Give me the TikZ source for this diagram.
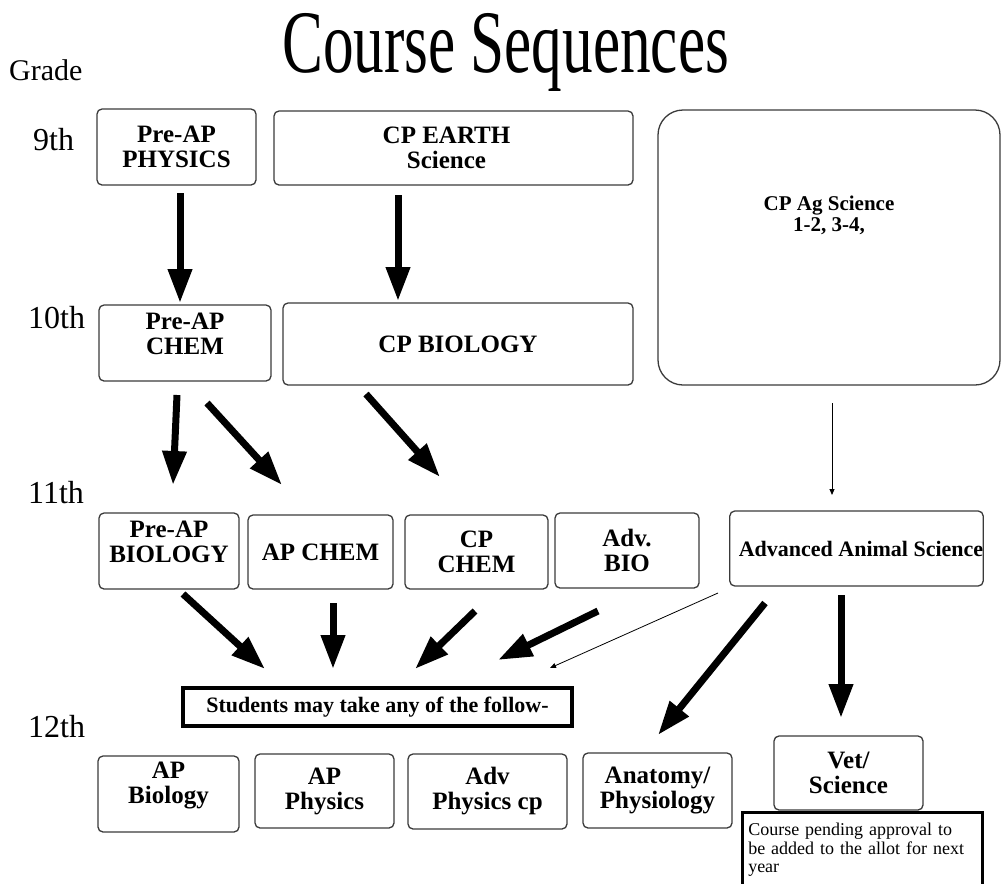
\documentclass[tikz,border=0pt]{standalone}
\usepackage{fontspec}
\setmainfont{Liberation Serif}
\usetikzlibrary{arrows.meta}
\definecolor{boxline}{HTML}{3A3A3A}
\newcommand\boxfont{\fontsize{25}{25}\selectfont\bfseries}
\newcommand\gradefont{\fontsize{32}{32}\selectfont}
\tikzset{
  box/.style={draw=boxline, line width=1.3pt, rounded corners=5pt, align=center, font=\boxfont, inner sep=0pt},
  raised/.style={label={[font=\boxfont, align=center, inner sep=0pt, yshift=9pt]center:#1}},
  gradelbl/.style={anchor=base west, inner sep=0pt, font=\gradefont},
  bigarrow/.style={line width=7pt, -{Triangle[width=23pt,length=34pt]}},
  thinarrow/.style={line width=1pt, -{Triangle[width=5pt,length=6pt]}},
}
\begin{document}
\begin{tikzpicture}[x=1pt,y=-1pt]
\useasboundingbox (0,0) rectangle (1002,884);
% title and grades
\node[anchor=base west, inner sep=0pt] (title) at (282,72) {\scalebox{0.665}[0.97]{\fontsize{92}{92}\selectfont Course Sequences}};
\node[gradelbl, font=\fontsize{30}{30}\selectfont] (grade) at (9,80) {Grade};
\node[gradelbl] (g9) at (33,150) {9th};
\node[gradelbl] (g10) at (28,328) {10th};
\node[gradelbl] (g11) at (28,503) {11th};
\node[gradelbl] (g12) at (28,737) {12th};
% 9th
\node[box, minimum width=159, minimum height=76] (phys) at (176.5,147) {Pre-AP\\PHYSICS};
\node[box, minimum width=359, minimum height=74,
      label={[font=\boxfont, align=center, inner sep=0pt, xshift=-7pt, yshift=0pt]center:CP EARTH\\Science}] (earth) at (453.5,148) {};
\node[box, rounded corners=25pt, minimum width=342, minimum height=275,
      label={[font=\fontsize{21}{21}\selectfont\bfseries, align=center, inner sep=0pt, yshift=32pt]center:CP Ag Science\\1-2, 3-4,}] (ag) at (829,247.5) {};
% 10th
\node[box, minimum width=172, minimum height=76, raised={Pre-AP\\CHEM}] (chem) at (185,343) {};
\node[box, minimum width=350, minimum height=82] (bio) at (458,344) {CP BIOLOGY};
% 11th
\node[box, minimum width=140, minimum height=76, raised={Pre-AP\\BIOLOGY}] (pbio) at (169,551) {};
\node[box, minimum width=145, minimum height=74] (apchem) at (320.5,552) {AP CHEM};
\node[box, minimum width=143, minimum height=74] (cpchem) at (476.5,552) {CP\\CHEM};
\node[box, minimum width=144, minimum height=75] (advbio) at (627,550.5) {Adv.\\BIO};
\node[box, minimum width=253, minimum height=75, font=\fontsize{22}{22}\selectfont\bfseries] (animal) at (856.5,548.5) {\hspace*{9pt}Advanced Animal Science};
% 12th
\node[draw=black, line width=4pt, minimum width=389, minimum height=38, inner sep=0pt, font=\fontsize{22}{22}\selectfont\bfseries] (students) at (377.5,707) {Students may take any of the follow-};
\node[box, minimum width=141, minimum height=76, raised={AP\\Biology}] (apbio) at (168.5,794) {};
\node[box, minimum width=139, minimum height=74] (apphys) at (324.5,791) {AP\\Physics};
\node[box, minimum width=159, minimum height=75] (advphys) at (487.5,791.5) {Adv\\Physics cp};
\node[box, minimum width=149, minimum height=75] (anat) at (657.5,790.5) {Anatomy/\\Physiology};
\node[box, minimum width=149, minimum height=74] (vet) at (848.5,773) {Vet/\\Science};
\node[draw=black, line width=2.5pt, anchor=north west, text width=228pt, align=left, inner xsep=6pt, inner ysep=11pt,
      font=\fontsize{18}{18.5}\selectfont] (note) at (741,811) {Course pending approval to be added to the allot for next year};
% arrow end points
\coordinate (a1s) at (180,193); \coordinate (a1e) at (180,303);
\coordinate (a2s) at (398,195); \coordinate (a2e) at (398,301);
\coordinate (a3s) at (177,395); \coordinate (a3e) at (173,485);
\coordinate (a4s) at (207,403); \coordinate (a4e) at (282,485);
\coordinate (a5s) at (366,394); \coordinate (a5e) at (440,477);
\coordinate (a6s) at (832,403); \coordinate (a6e) at (832,495);
\coordinate (a7s) at (183,594); \coordinate (a7e) at (265,669);
\coordinate (a8s) at (333,603); \coordinate (a8e) at (333,669);
\coordinate (a9s) at (475,611); \coordinate (a9e) at (415,669);
\coordinate (a10s) at (598,611); \coordinate (a10e) at (498,660);
\coordinate (a11s) at (718,593); \coordinate (a11e) at (550,668);
\coordinate (a12s) at (765,603); \coordinate (a12e) at (658,735);
\coordinate (a13s) at (841,595); \coordinate (a13e) at (841,718);
% arrows
\draw[bigarrow] (a1s) -- (a1e);
\draw[bigarrow] (a2s) -- (a2e);
\draw[bigarrow] (a3s) -- (a3e);
\draw[bigarrow] (a4s) -- (a4e);
\draw[bigarrow] (a5s) -- (a5e);
\draw[thinarrow] (a6s) -- (a6e);
\draw[bigarrow] (a7s) -- (a7e);
\draw[bigarrow] (a8s) -- (a8e);
\draw[bigarrow] (a9s) -- (a9e);
\draw[bigarrow] (a10s) -- (a10e);
\draw[thinarrow, line width=0.8pt] (a11s) -- (a11e);
\draw[bigarrow] (a12s) -- (a12e);
\draw[bigarrow] (a13s) -- (a13e);
\end{tikzpicture}
\end{document}
